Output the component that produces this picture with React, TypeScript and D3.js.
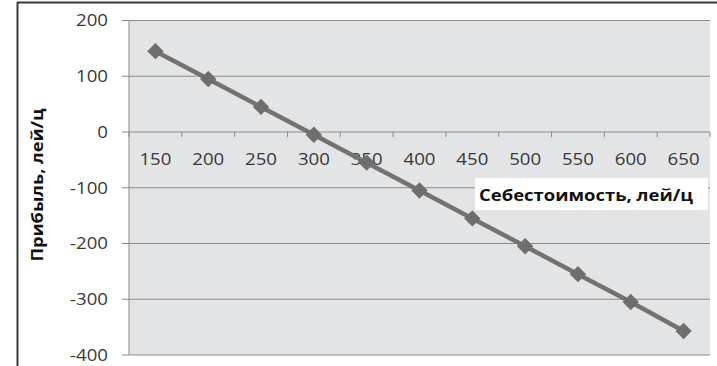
import React from "react";
import * as d3 from "d3";

const costs = ["150", "200", "250", "300", "350", "400", "450", "500", "550", "600", "650"];
const profit = [145, 95, 45, -5, -55, -105, -155, -205, -255, -305, -357];
const yTicks = [200, 100, 0, -100, -200, -300, -400];
const yTitle = "Прибыль, лей/ц";
const xTitle = "Себестоимость, лей/ц";

const W = 717;
const H = 366;
const plot = { left: 129, right: 710, top: 20.5, bottom: 355 };
const font = "'Open Sans', sans-serif";
const stretch = 1.13;

export default function App() {
  const x = d3.scaleBand<string>().domain(costs).range([plot.left, plot.right]);
  const y = d3.scaleLinear().domain([-400, 200]).range([plot.bottom, plot.top]);
  const cx = (c: string) => (x(c) ?? 0) + x.bandwidth() / 2;
  const line = d3
    .line<number>()
    .x((_, i) => cx(costs[i]))
    .y((d) => y(d));
  const diamond = d3.symbol().type(d3.symbolDiamond2).size(170)() ?? "";
  const y0 = y(0);

  return (
    <svg
      width={W}
      height={H}
      style={{ position: "absolute", left: 0, top: 0, background: "#fff" }}
    >
      {/* frame */}
      <line x1={17} x2={W} y1={2.5} y2={2.5} stroke="#3a3a3a" strokeWidth={2} />
      <line x1={17.5} x2={17.5} y1={2} y2={H} stroke="#3a3a3a" strokeWidth={2} />

      {/* plot background */}
      <rect
        x={plot.left}
        y={plot.top}
        width={plot.right - plot.left}
        height={plot.bottom - plot.top}
        fill="#e3e4e6"
      />

      {/* gridlines and y ticks */}
      {yTicks.map((t) => (
        <g key={t}>
          <line
            x1={122}
            x2={plot.right}
            y1={y(t)}
            y2={y(t)}
            stroke="#8a8a8a"
            strokeWidth={1}
          />
          <text
            transform={`translate(108,${y(t)}) scale(${stretch},1)`}
            dy="0.35em"
            textAnchor="end"
            fontFamily={font}
            fontSize={16.5}
            fill="#383838"
          >
            {t}
          </text>
        </g>
      ))}

      {/* y axis line */}
      <line x1={plot.left} x2={plot.left} y1={plot.top} y2={plot.bottom} stroke="#8a8a8a" />

      {/* category ticks on the zero line */}
      {costs.map((c) => (
        <line
          key={"t" + c}
          x1={x(c) ?? 0}
          x2={x(c) ?? 0}
          y1={y0}
          y2={y0 + 5}
          stroke="#8a8a8a"
        />
      ))}
      <line x1={plot.right} x2={plot.right} y1={y0} y2={y0 + 5} stroke="#8a8a8a" />
      {costs.map((c) => (
        <text
          key={"l" + c}
          transform={`translate(${cx(c)},159.5) scale(${stretch},1)`}
          dy="0.35em"
          textAnchor="middle"
          fontFamily={font}
          fontSize={16.5}
          fill="#383838"
        >
          {c}
        </text>
      ))}

      {/* series */}
      <path d={line(profit) ?? ""} fill="none" stroke="#727272" strokeWidth={4.5} />
      {profit.map((v, i) => (
        <path
          key={"m" + i}
          d={diamond}
          transform={`translate(${cx(costs[i])},${y(v)})`}
          fill="#6e6e6e"
        />
      ))}

      {/* axis titles */}
      <text
        transform={`translate(37,185) rotate(-90) scale(1.1,1)`}
        textAnchor="middle"
        dy="0.35em"
        fontFamily={font}
        fontWeight="bold"
        fontSize={16.5}
        fill="#111"
      >
        {yTitle}
      </text>
      <rect x={475} y={178} width={233} height={32} fill="#fff" />
      <text
        transform={`translate(586,195) scale(1.12,1)`}
        dy="0.35em"
        textAnchor="middle"
        fontFamily={font}
        fontWeight="bold"
        fontSize={16.5}
        fill="#111"
      >
        {xTitle}
      </text>
    </svg>
  );
}
